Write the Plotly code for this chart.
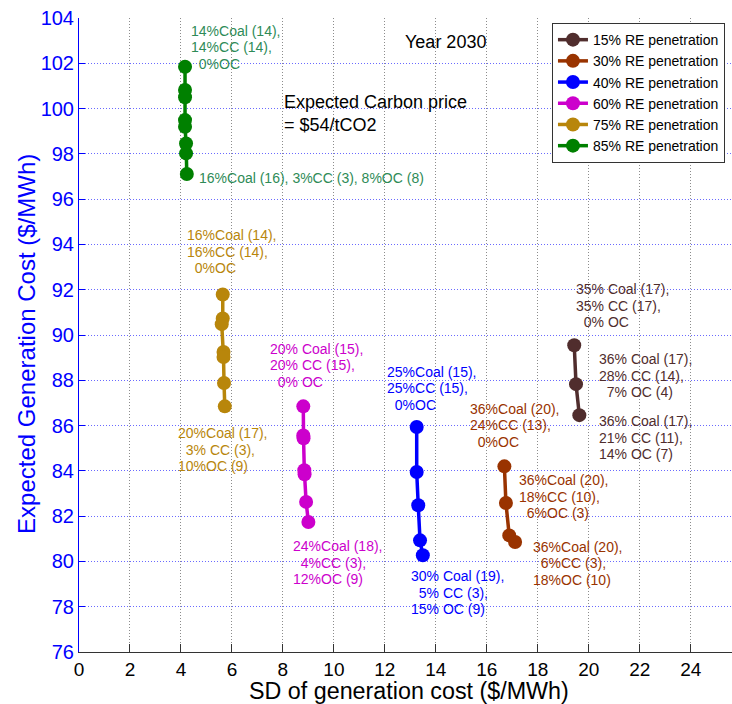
import plotly.graph_objects as go

# Portfolio frontier points: SD of generation cost vs expected generation cost ($/MWh)
series_names = ["15% RE penetration", "30% RE penetration", "40% RE penetration",
                "60% RE penetration", "75% RE penetration", "85% RE penetration"]
series_colors = ["#502d2d", "#993300", "#0000ff", "#cc00cc", "#b8860b", "#008000"]
label_colors = ["#502d2d", "#993300", "#0000ff", "#cc00cc", "#b8860b", "#2e8b57"]

sd_re15 = [19.43, 19.50, 19.63]
cost_re15 = [89.55, 87.83, 86.46]

sd_re30 = [16.69, 16.75, 16.88, 17.11]
cost_re30 = [84.20, 82.58, 81.15, 80.86]

sd_re40 = [13.25, 13.25, 13.31, 13.38, 13.49]
cost_re40 = [85.94, 83.95, 82.48, 80.93, 80.27]

sd_re60 = [8.80, 8.80, 8.81, 8.84, 8.85, 8.91, 9.00]
cost_re60 = [86.85, 85.56, 85.44, 84.03, 83.85, 82.63, 81.74]

sd_re75 = [5.64, 5.64, 5.60, 5.67, 5.67, 5.69, 5.72]
cost_re75 = [91.79, 90.73, 90.48, 89.25, 89.03, 87.88, 86.85]

sd_re85 = [4.16, 4.16, 4.16, 4.16, 4.16, 4.20, 4.20, 4.23]
cost_re85 = [101.85, 100.82, 100.50, 99.49, 99.20, 98.46, 98.02, 97.11]

sd_series = [sd_re15, sd_re30, sd_re40, sd_re60, sd_re75, sd_re85]
cost_series = [cost_re15, cost_re30, cost_re40, cost_re60, cost_re75, cost_re85]

x_ticks = list(range(0, 25, 2))
y_ticks = list(range(76, 105, 2))

NB = "\u00a0"
# Portfolio mix labels: (series index, x, y, lines)
mix_labels = [
    (5, 4.39, 103.44, ["14%Coal (14),", "14%CC (14),", NB * 2 + "0%OC"]),
    (5, 4.71, 96.92, ["16%Coal (16), 3%CC (3), 8%OC (8)"]),
    (4, 4.25, 94.41, ["16%Coal (14),", "16%CC (14),", NB * 2 + "0%OC"]),
    (4, 3.89, 85.66, ["20%Coal (17),", NB * 2 + "3% CC (3),", "10%OC (9)"]),
    (3, 7.50, 89.40, ["20% Coal (15),", "20% CC (15),", NB * 2 + "0% OC"]),
    (3, 8.39, 80.67, ["24%Coal (18),", NB * 2 + "4%CC (3),", "12%OC (9)"]),
    (2, 12.07, 88.37, ["25%Coal (15),", "25%CC (15),", NB * 2 + "0%OC"]),
    (2, 13.02, 79.34, ["30% Coal (19),", NB * 2 + "5% CC (3),", "15% OC (9)"]),
    (1, 15.34, 86.75, ["36%Coal (20),", "24%CC (13),", NB * 2 + "0%OC"]),
    (1, 17.27, 83.58, ["36%Coal (20),", "18%CC (10),", NB * 2 + "6%OC (3)"]),
    (1, 17.82, 80.64, ["36%Coal (20),", NB * 2 + "6%CC (3),", "18%OC (10)"]),
    (0, 19.50, 92.01, ["35% Coal (17),", "35% CC (17),", NB * 2 + "0% OC"]),
    (0, 20.41, 88.92, ["36% Coal (17),", "28% CC (14),", NB * 2 + "7% OC (4)"]),
    (0, 20.39, 86.19, ["36% Coal (17),", "21% CC (11),", "14% OC (7)"]),
]

FONT = "Arial, 'Liberation Sans', sans-serif"

fig = go.Figure()
for name, color, xs, ys in zip(series_names, series_colors, sd_series, cost_series):
    fig.add_trace(go.Scatter(
        x=xs, y=ys, name=name, mode="lines+markers",
        line=dict(color=color, width=3.5),
        marker=dict(color=color, size=14, symbol="circle"),
    ))

def add_text_block(x, y, lines, color, size, step):
    for i, line in enumerate(lines):
        fig.add_annotation(
            x=x, y=y, xref="x", yref="y", text=line, showarrow=False,
            xanchor="left", yanchor="middle", yshift=-i * step,
            borderpad=0, borderwidth=0,
            font=dict(family=FONT, size=size, color=color),
        )

for idx, x, y, lines in mix_labels:
    add_text_block(x, y, lines, label_colors[idx], 14, 16.5)

add_text_block(12.79, 102.94, ["Year 2030"], "black", 18, 0)
add_text_block(8.06, 100.30, ["Expected Carbon price", "= $54/tCO2"], "black", 18, 23.3)

# Axis titles
fig.add_annotation(
    x=0.505, y=-0.0615, xref="paper", yref="paper", showarrow=False,
    text="SD of generation cost ($/MWh)", xanchor="center", yanchor="middle",
    font=dict(family=FONT, size=23.3, color="black"),
)
fig.add_annotation(
    x=-0.0796, y=0.486, xref="paper", yref="paper", showarrow=False,
    text="Expected Generation Cost ($/MWh)", textangle=-90,
    xanchor="center", yanchor="middle",
    font=dict(family=FONT, size=24, color="#0000ff"),
)

fig.update_layout(
    width=732, height=704,
    margin=dict(l=79, r=0, t=18, b=52, autoexpand=False),
    paper_bgcolor="white", plot_bgcolor="white",
    font=dict(family=FONT),
    showlegend=True,
    legend=dict(
        x=0.7243, y=0.992, xanchor="left", yanchor="top",
        bgcolor="white", bordercolor="#333333", borderwidth=1,
        font=dict(family=FONT, size=14, color="black"),
        tracegroupgap=0,
    ),
    xaxis=dict(
        range=[0, 25.62], tickmode="array", tickvals=x_ticks,
        ticks="inside", ticklen=8, tickcolor="#333333",
        showline=True, linecolor="#333333", linewidth=1,
        showgrid=True, gridcolor="#8c8c8c", griddash="1px,2px", gridwidth=1,
        zeroline=False, tickfont=dict(family=FONT, size=19, color="black"),
    ),
    yaxis=dict(
        range=[76, 104], tickmode="array", tickvals=y_ticks,
        ticks="inside", ticklen=6, tickcolor="#0000ff",
        showline=True, linecolor="#0000ff", linewidth=1,
        showgrid=True, gridcolor="#6a6aff", griddash="1px,2px", gridwidth=1,
        zeroline=False, tickfont=dict(family=FONT, size=20, color="#0000ff"),
    ),
)

fig.write_html("out.html")
